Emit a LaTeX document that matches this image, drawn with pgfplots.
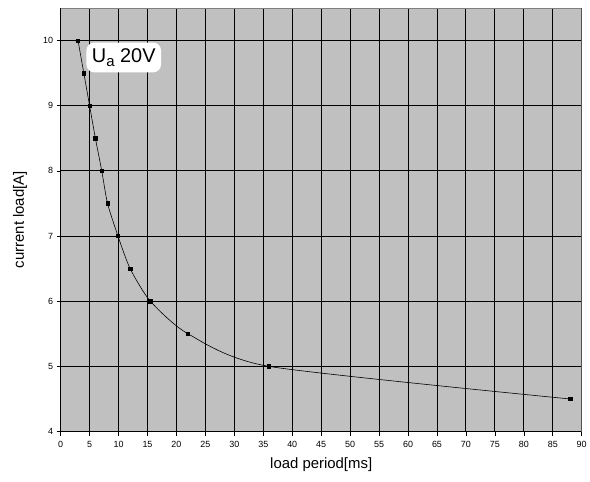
\documentclass[border=0pt]{standalone}
\usepackage{fontspec}
\setmainfont{Liberation Sans}
\usepackage{pgfplots}
\pgfplotsset{compat=1.18}
\definecolor{plotgray}{HTML}{C0C0C0}
\begin{document}
\begin{tikzpicture}
  \begin{axis}[
      name=ax,
      scale only axis,
      width=524pt, height=426pt,
      xmin=0, xmax=90, ymin=4, ymax=10.5,
      xtick={0,5,...,90},
      ytick={4,5,...,10},
      axis x line*=bottom, axis y line*=left,
      axis line style={black, line width=0.8pt, -},
      tick align=outside,
      major tick length=4pt,
      tick style={black, line width=0.6pt},
      grid=major,
      major grid style={black, line width=0.9pt},
      axis background/.style={fill=plotgray},
      /pgf/number format/assume math mode=true,
      ticklabel style={font=\fontsize{9}{10}\selectfont},
      xticklabel style={yshift=-2pt},
      xlabel={load period[ms]},
      ylabel={current load[A]},
      label style={font=\fontsize{15}{18}\selectfont},
      xlabel style={at={(axis description cs:0.5,-0.0775)}, anchor=center},
      ylabel style={at={(axis description cs:-0.078,0.5)}, anchor=center},
    ]
    % Messpunkte
    \addplot [
        smooth, tension=0.4,
        black, line width=0.6pt,
        mark=square*, mark size=1.7pt,
    ]
    coordinates {
        (3, 10)
        (4, 9.5)
        (5, 9)
        (6, 8.5)
        (7.1, 8)
        (8.1, 7.5)
        (9.9, 7)
        (12, 6.5)
        (15.5, 6)
        (22, 5.5)
        (36, 5)
        (88, 4.5)
    };
    \draw[gray, line width=0.8pt] (rel axis cs:0,1) -- (rel axis cs:1,1) -- (rel axis cs:1,0);
    \node[fill=white, rounded corners=8pt, minimum width=75pt, minimum height=30pt,
          inner sep=2pt, font=\fontsize{20}{22}\selectfont]
      at (axis cs:10.9,9.74) {U\raisebox{-0.4ex}{\fontsize{15}{16}\selectfont a} 20V};
  \end{axis}
  \path ([xshift=-61pt,yshift=-50pt]ax.south west) rectangle ([xshift=5pt,yshift=8pt]ax.north east);
\end{tikzpicture}
\end{document}
